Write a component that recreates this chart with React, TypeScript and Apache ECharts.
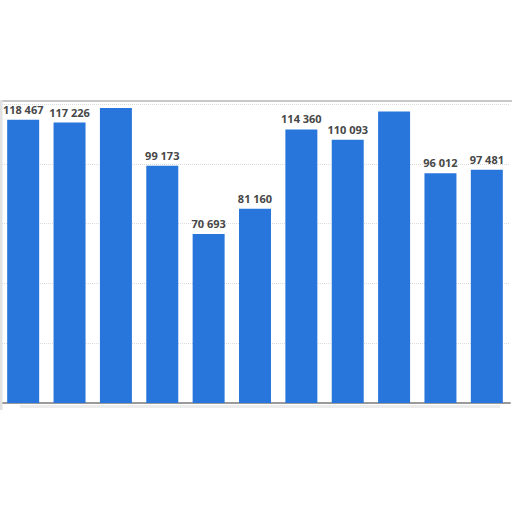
import React, { useEffect, useRef } from 'react';
import * as echarts from 'echarts';

const categories = ['1', '2', '3', '4', '5', '6', '7', '8', '9', '10', '11'];
const values = [118467, 117226, 123300, 99173, 70693, 81160, 114360, 110093, 121900, 96012, 97481];
// labels cut off by the top edge in the reference
const hiddenLabels = [2, 8];

const formatNumber = (v: number) => String(v).replace(/\B(?=(\d{3})+(?!\d))/g, ' ');

const App: React.FC = () => {
  const chartRef = useRef<HTMLDivElement>(null);

  useEffect(() => {
    if (!chartRef.current) return;
    const chart = echarts.init(chartRef.current, undefined, { renderer: 'svg' });

    const option: echarts.EChartsOption = {
      animation: false,
      backgroundColor: '#ffffff',
      grid: { left: 0, right: 2, top: 104, bottom: 109 },
      xAxis: {
        type: 'category',
        data: categories,
        axisLine: { lineStyle: { color: '#9a9a9a', width: 2 } },
        axisTick: { show: false },
        axisLabel: { show: false },
      },
      yAxis: {
        type: 'value',
        min: 0,
        max: 125000,
        interval: 25000,
        axisLabel: { show: false },
        splitLine: { lineStyle: { color: '#dcdcdc', type: 'dotted', width: 1 } },
      },
      series: [
        {
          type: 'bar',
          barCategoryGap: '31%',
          itemStyle: { color: '#2876db' },
          label: {
            show: true,
            position: 'top',
            distance: 5,
            color: '#474747',
            fontFamily: 'Open Sans',
            fontWeight: 'bold',
            fontSize: 11,
            formatter: (p: any) => formatNumber(p.value),
          },
          data: values.map((v, i) => ({
            value: v,
            label: hiddenLabels.includes(i) ? { show: false } : undefined,
          })),
        },
      ],
      graphic: [
        {
          type: 'line',
          shape: { x1: 0, y1: 101, x2: 512, y2: 101 },
          style: { stroke: '#c8c8c8', lineWidth: 2 },
          z: 10,
        },
        {
          type: 'line',
          shape: { x1: 1, y1: 100, x2: 1, y2: 410 },
          style: { stroke: '#e2e2e2', lineWidth: 3 },
          z: 10,
        },
        {
          type: 'rect',
          shape: { x: 20, y: 405, width: 480, height: 3 },
          style: { fill: '#ececec' },
          z: 1,
        },
      ],
    };

    chart.setOption(option);
    return () => {
      chart.dispose();
    };
  }, []);

  return (
    <div
      ref={chartRef}
      style={{ position: 'fixed', left: 0, top: 0, width: '512px', height: '512px' }}
    />
  );
};

export default App;
